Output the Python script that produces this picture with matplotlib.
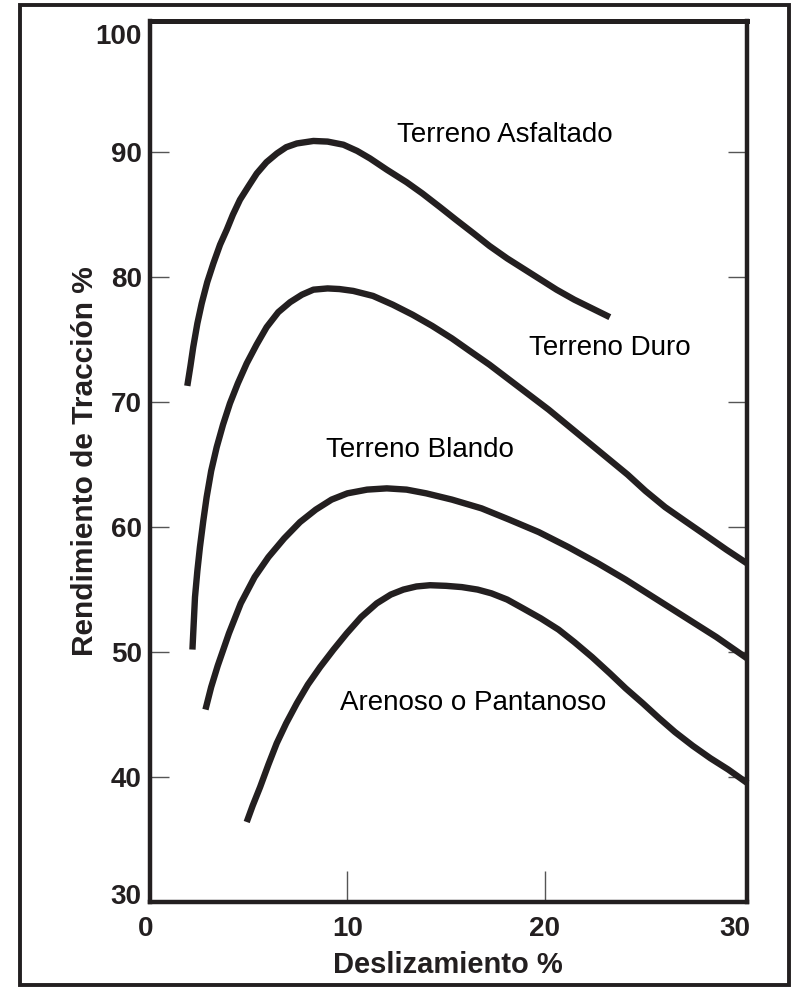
import matplotlib.pyplot as plt
from matplotlib.patches import Rectangle
from matplotlib.transforms import ScaledTranslation

# slip % (x) and tractive efficiency % (y)
asfaltado_x = [1.89, 2.05, 2.19, 2.4, 2.62, 2.9, 3.21, 3.55, 3.89, 4.2, 4.56, 5.0, 5.41, 5.9, 6.43, 6.9, 7.44,
               8.28, 9.0, 9.8, 10.5, 11.15, 12.0, 13.0, 13.8, 14.7, 15.5, 16.4, 17.2, 18.1, 19.0, 19.8, 20.6,
               21.5, 22.4, 23.3]
asfaltado_y = [71.3, 72.9, 74.4, 76.3, 77.9, 79.6, 81.1, 82.6, 83.8, 85.0, 86.2, 87.3, 88.3, 89.2, 89.9, 90.4, 90.7,
               90.9, 90.85, 90.6, 90.1, 89.5, 88.6, 87.6, 86.7, 85.6, 84.6, 83.5, 82.5, 81.5, 80.6, 79.8, 79.0,
               78.2, 77.5, 76.8]

duro_x = [2.15, 2.28, 2.4, 2.53, 2.7, 2.87, 3.1, 3.38, 3.7, 4.05, 4.45, 4.9, 5.4, 5.91, 6.5, 7.1, 7.7, 8.28,
          9.0, 9.6, 10.3, 11.3, 12.3, 13.3, 14.3, 15.3, 16.2, 17.2, 18.2, 19.2, 20.2, 21.2, 22.2, 23.2, 24.2,
          25.1, 26.1, 27.1, 28.2, 29.2, 30.25]
duro_y = [50.2, 54.4, 56.5, 58.4, 60.5, 62.4, 64.5, 66.4, 68.2, 69.9, 71.5, 73.1, 74.6, 76.0, 77.2, 78.0, 78.6, 79.0,
          79.1, 79.05, 78.9, 78.5, 77.8, 77.0, 76.1, 75.1, 74.1, 73.0, 71.8, 70.6, 69.4, 68.1, 66.8, 65.5, 64.2,
          62.9, 61.6, 60.5, 59.3, 58.2, 57.1]

blando_x = [2.81, 3.1, 3.43, 4.0, 4.6, 5.3, 6.0, 6.8, 7.6, 8.4, 9.2, 10.0, 11.0, 12.0, 13.0, 14.0, 15.3, 16.8,
            18.2, 19.7, 21.2, 22.7, 24.1, 25.6, 27.1, 28.7, 30.25]
blando_y = [45.4, 47.2, 48.9, 51.5, 53.9, 56.0, 57.6, 59.1, 60.4, 61.4, 62.2, 62.7, 63.0, 63.1, 63.0, 62.7, 62.2, 61.5,
            60.6, 59.6, 58.4, 57.1, 55.8, 54.3, 52.8, 51.2, 49.5]

arenoso_x = [4.9, 5.2, 5.58, 6.0, 6.42, 6.9, 7.44, 8.0, 8.62, 9.3, 9.97, 10.7, 11.49, 12.2, 12.84, 13.5, 14.19,
             15.0, 15.8, 16.6, 17.3, 18.1, 18.9, 19.8, 20.7, 21.5, 22.4, 23.3, 24.1, 24.97, 25.8, 26.6, 27.5,
             28.4, 29.3, 30.28]
arenoso_y = [36.4, 37.7, 39.2, 41.0, 42.7, 44.3, 45.9, 47.4, 48.8, 50.2, 51.5, 52.8, 53.9, 54.6, 55.0, 55.25, 55.35,
             55.3, 55.2, 55.0, 54.7, 54.2, 53.5, 52.7, 51.8, 50.8, 49.6, 48.3, 47.1, 45.9, 44.7, 43.6, 42.5,
             41.5, 40.6, 39.5]

labels = ["Terreno Asfaltado", "Terreno Duro", "Terreno Blando", "Arenoso o Pantanoso"]
label_x = [17.99, 23.3, 13.7, 16.36]
label_y = [91.4, 74.3, 66.2, 45.9]

x_ticks = [0, 10, 20, 30]
y_ticks = [30, 40, 50, 60, 70, 80, 90, 100]

ink = '#231f20'
font = ['Liberation Sans', 'DejaVu Sans']

fig = plt.figure(figsize=(7.94, 9.88), dpi=100)
# frame round the whole picture
fig.patches.append(Rectangle((20/794, 3/988), 769/794, 980/988, transform=fig.transFigure,
                             fill=False, edgecolor=ink, linewidth=2.8))

ax = fig.add_axes([150/794, 1 - 902/988, 597/794, 881/988])
for xs, ys in [(asfaltado_x, asfaltado_y), (duro_x, duro_y), (blando_x, blando_y), (arenoso_x, arenoso_y)]:
    ax.plot(xs, ys, color=ink, linewidth=4.6, solid_joinstyle='round', solid_capstyle='butt', clip_on=False)

for t, lx, ly in zip(labels, label_x, label_y):
    ax.text(lx, ly, t, ha='center', va='center', fontsize=20, family=font, color='black')

ax.set_xlim(0, 30.25)
ax.set_ylim(30, 100.5)
for s in ax.spines.values():
    s.set_linewidth(3.2)
    s.set_color(ink)
ax.spines['top'].set_linewidth(3.6)

ax.set_xticks(x_ticks)
ax.set_yticks(y_ticks)
ax.tick_params(axis='y', direction='in', length=14, width=1, color='#555555', right=True, pad=6)
ax.tick_params(axis='x', direction='in', length=22, width=1, color='#555555', pad=10)
ax.set_xticklabels([str(v) for v in x_ticks], fontsize=20, fontweight='bold', family=font, color=ink)
ax.set_yticklabels([str(v) for v in y_ticks], fontsize=20, fontweight='bold', family=font, color=ink)

# no tick marks where the ticks sit on the frame
for tk in [ax.xaxis.get_major_ticks()[0], ax.xaxis.get_major_ticks()[-1],
           ax.yaxis.get_major_ticks()[0], ax.yaxis.get_major_ticks()[-1]]:
    tk.tick1line.set_visible(False)
    tk.tick2line.set_visible(False)

# end labels sit a little inside the frame
def nudge(lbl, dx, dy):
    lbl.set_transform(lbl.get_transform() + ScaledTranslation(dx/72, dy/72, fig.dpi_scale_trans))

nudge(ax.get_yticklabels()[0], 0, 6)
nudge(ax.get_yticklabels()[-1], 0, -5)
nudge(ax.get_xticklabels()[0], -3, 0)
nudge(ax.get_xticklabels()[-1], -5, 0)

ax.set_xlabel('Deslizamiento %', fontsize=21, fontweight='bold', family=font, color=ink)
ax.set_ylabel('Rendimiento de Tracción %', fontsize=21.5, fontweight='bold', family=font, color=ink)
ax.xaxis.set_label_coords(0.499, -0.056)
ax.yaxis.set_label_coords(-0.085, 0.5)

plt.savefig('out.png', dpi=100)
